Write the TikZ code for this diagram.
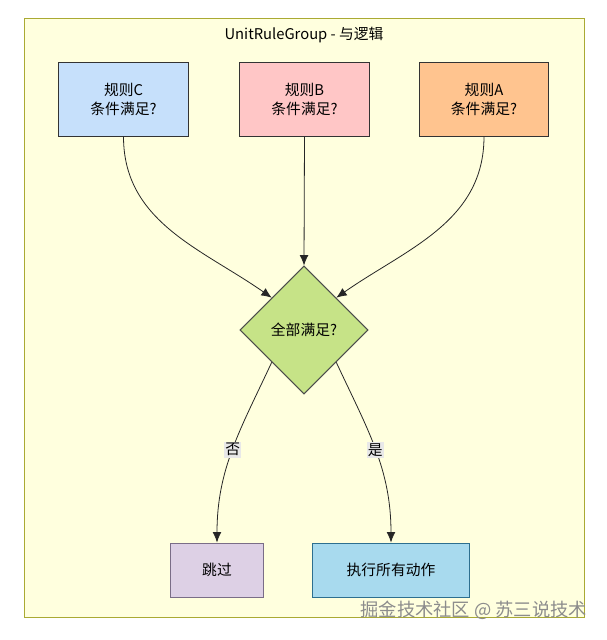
\documentclass[tikz,border=0pt]{standalone}
\usepackage{fontspec}
\setmainfont{Noto Sans CJK SC}
\usepackage{tikz}
\usetikzlibrary{arrows,arrows.meta,shapes}
\usetikzlibrary{positioning}
\definecolor{groupfill}{HTML}{FFFFDE}
\definecolor{groupline}{HTML}{AAAA33}
\definecolor{rulec}{HTML}{C6E0FB}
\definecolor{ruleb}{HTML}{FFC6C6}
\definecolor{rulea}{HTML}{FFC48F}
\definecolor{checkfill}{HTML}{C6E387}
\definecolor{skipfill}{HTML}{DDD0E5}
\definecolor{skipline}{HTML}{7A6D87}
\definecolor{execfill}{HTML}{A8DAEE}
\definecolor{execline}{HTML}{2D6F8F}
\definecolor{labelfill}{HTML}{E8E8E8}
\definecolor{mark}{HTML}{8C8C8C}
\tikzset{
    rulebox/.style={draw=black!80, line width=.25mm, minimum width=3.225cm,
        minimum height=1.825cm, align=center, font=\fontsize{10.5}{14}\selectfont},
    checkbox/.style={diamond, draw=black!70, line width=.25mm, fill=checkfill,
        minimum width=3.2cm, minimum height=3.2cm, inner sep=0pt,
        font=\fontsize{10.5}{14}\selectfont},
    endbox/.style={draw, line width=.25mm, minimum height=1.35cm,
        font=\fontsize{10.5}{14}\selectfont},
    flow/.style={draw=black!85, line width=.2mm, ->},
    edgelabel/.style={fill=labelfill, inner sep=1pt, font=\fontsize{10.5}{12}\selectfont},
}

\begin{document}
\begin{tikzpicture}[x=0.025cm, y=0.025cm, >={Latex[length=2.6mm,width=2.2mm]}]
		\useasboundingbox (0,0) rectangle (607,-640);
		% group frame
		\draw[fill=groupfill, draw=groupline, line width=.25mm] (24,-18) rectangle (584,-617);
		\node[font=\fontsize{10.5}{12}\selectfont] (title) at (304,-35) {UnitRuleGroup - 与逻辑};
		% rules
		\node[rulebox, fill=rulec] (ruleC) at (123.5,-99.5) {规则C\\条件满足?};
		\node[rulebox, fill=ruleb] (ruleB) at (304.5,-99.5) {规则B\\条件满足?};
		\node[rulebox, fill=rulea] (ruleA) at (484,-99.5) {规则A\\条件满足?};
		\node[checkbox] (check) at (304,-330) {全部满足?};
		% results
		\node[endbox, fill=skipfill, draw=skipline, minimum width=2.3cm] (skip) at (217,-570) {跳过};
		\node[endbox, fill=execfill, draw=execline, minimum width=3.9cm] (exec) at (391,-570) {执行所有动作};
		% edges
		\draw[flow] (ruleC.south) to[out=-90, in=145] (check.north west);
		\draw[flow] (ruleB.south) -- (check.north);
		\draw[flow] (ruleA.south) to[out=-90, in=35] (check.north east);
		\draw[flow] (check.south west) to[out=-115, in=90]
			node[edgelabel, pos=.5] {否} (skip.north);
		\draw[flow] (check.south east) to[out=-65, in=90]
			node[edgelabel, pos=.5] {是} (exec.north);
		% watermark
		\node[anchor=east, text=mark, font=\fontsize{13}{14}\selectfont] (mark) at (592,-610) {掘金技术社区 @ 苏三说技术};
\end{tikzpicture}
\end{document}
